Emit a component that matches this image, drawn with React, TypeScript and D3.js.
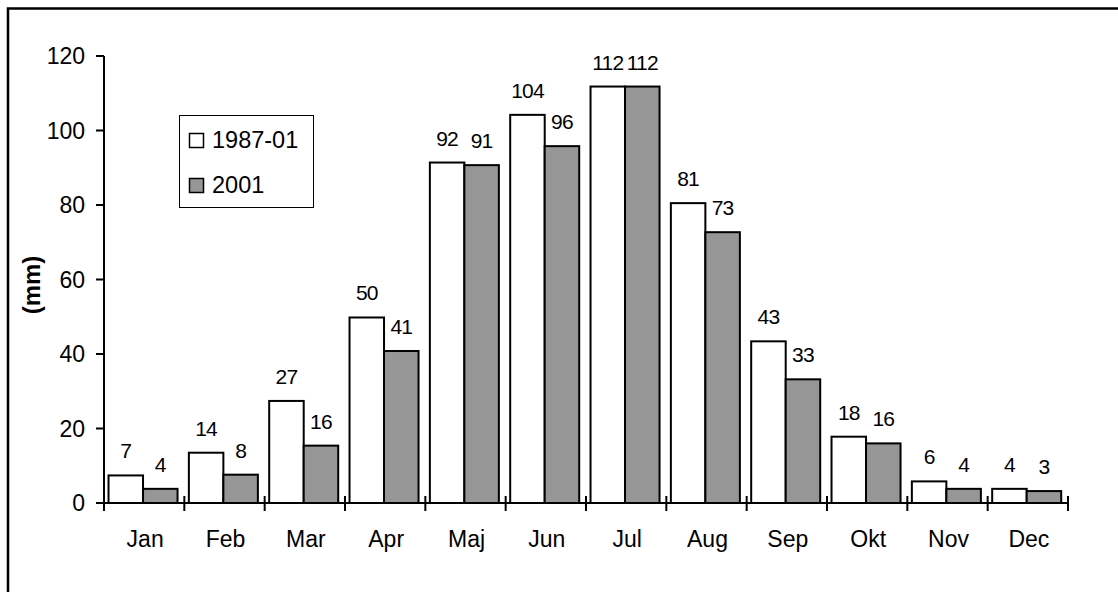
import React from "react";
import * as d3 from "d3";

const months = ["Jan", "Feb", "Mar", "Apr", "Maj", "Jun", "Jul", "Aug", "Sep", "Okt", "Nov", "Dec"];
const series = ["1987-01", "2001"];
const values1987 = [7.4, 13.5, 27.4, 49.8, 91.4, 104.2, 111.8, 80.5, 43.4, 17.8, 5.8, 3.8];
const values2001 = [3.8, 7.6, 15.4, 40.8, 90.7, 95.8, 111.8, 72.7, 33.2, 16.0, 3.8, 3.2];
const labels1987 = ["7", "14", "27", "50", "92", "104", "112", "81", "43", "18", "6", "4"];
const labels2001 = ["4", "8", "16", "41", "91", "96", "112", "73", "33", "16", "4", "3"];
const yTicks = [0, 20, 40, 60, 80, 100, 120];

const FONT = "'Liberation Sans', Arial, sans-serif";
const GRAY = "#969696";

export default function App() {
  const y = d3.scaleLinear().domain([0, 120]).range([503, 56]);
  const x = d3.scaleBand<string>().domain(months).range([104, 1068]).padding(0);
  const inner = d3
    .scaleBand<string>()
    .domain(series)
    .range([0, x.bandwidth()])
    .paddingInner(0)
    .paddingOuter(0.164)
    .align(0.4);
  const fills = ["#ffffff", GRAY];
  const data = [values1987, values2001];
  const labels = [labels1987, labels2001];
  const boundaries = months.map((m) => x(m) as number).concat([x.range()[1]]);

  return (
    <svg
      width={1118}
      height={592}
      style={{ position: "absolute", left: 0, top: 0, background: "#fff" }}
      fontFamily={FONT}
    >
      <rect x={0} y={0} width={1118} height={592} fill="#fff" />
      {/* outer frame */}
      <path d="M8,600 L8,8.5 L1130,8.5" fill="none" stroke="#000" strokeWidth={2.5} />

      {/* bars */}
      {series.map((s, si) =>
        months.map((m, i) => {
          const bx = (x(m) as number) + (inner(s) as number);
          const by = y(data[si][i]);
          return (
            <g key={s + m}>
              <rect
                x={bx}
                y={by}
                width={inner.bandwidth()}
                height={y(0) - by}
                fill={fills[si]}
                stroke="#000"
                strokeWidth={2}
              />
              <text
                x={bx + inner.bandwidth() / 2}
                y={by - 17}
                fontSize={21}
                textAnchor="middle"
                letterSpacing={-0.8}
              >
                {labels[si][i]}
              </text>
            </g>
          );
        })
      )}

      {/* y axis */}
      <line x1={104} x2={104} y1={y(120)} y2={y(0)} stroke="#000" strokeWidth={2} />
      {yTicks.map((t) => (
        <g key={t}>
          <line x1={96} x2={104} y1={y(t)} y2={y(t)} stroke="#000" strokeWidth={2} />
          <text x={85} y={y(t) + 8} fontSize={23} textAnchor="end">
            {t}
          </text>
        </g>
      ))}

      {/* x axis */}
      <line x1={104} x2={1069} y1={y(0)} y2={y(0)} stroke="#000" strokeWidth={2} />
      {boundaries.map((b, i) => (
        <line key={i} x1={b} x2={b} y1={y(0) - 7} y2={y(0) + 8} stroke="#000" strokeWidth={2} />
      ))}
      {months.map((m) => (
        <text
          key={m}
          x={(x(m) as number) + x.bandwidth() / 2 + 1}
          y={547}
          fontSize={23}
          textAnchor="middle"
        >
          {m}
        </text>
      ))}

      {/* y title */}
      <text
        transform={`translate(40,285) rotate(-90)`}
        fontSize={24}
        fontWeight="bold"
        textAnchor="middle"
      >
        (mm)
      </text>

      {/* legend */}
      <rect x={179.5} y={115.5} width={134} height={92} fill="#fff" stroke="#000" strokeWidth={1} />
      {series.map((s, i) => (
        <g key={s}>
          <rect
            x={189.5}
            y={133.5 + i * 45}
            width={14}
            height={14}
            fill={fills[i]}
            stroke="#000"
            strokeWidth={1.5}
          />
          <text x={212} y={148 + i * 45} fontSize={23.5}>
            {s}
          </text>
        </g>
      ))}
    </svg>
  );
}
